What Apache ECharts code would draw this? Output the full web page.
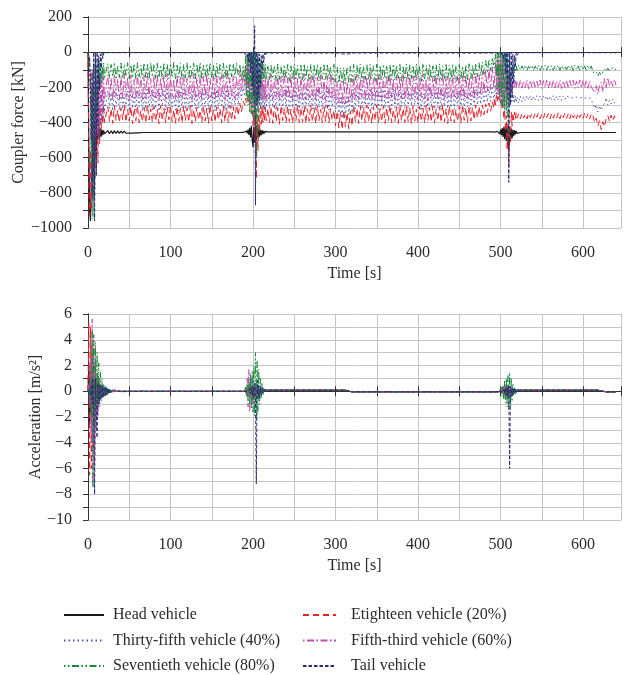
<!DOCTYPE html>
<html>
<head>
<meta charset="utf-8">
<script src="https://cdn.jsdelivr.net/npm/echarts@6/dist/echarts.min.js"></script>
<style>
  html, body { margin: 0; padding: 0; background: #fff; }
  #chart { width: 624px; height: 675px; }
</style>
</head>
<body>
<div id="chart"></div>
<script>
// sample times for the coupler force plot [s]
const timeTop = [
  0,1,2,3,4,5,6,7,8,9,10,11,12,13,14,15,16,17,18,19,20,
  24,26,28,30,32,34,36,38,40,42,44,46,48,50,52,54,56,58,60,62,64,66,68,70,72,74,76,78,80,82,84,86,88,90,92,94,96,98,100,102,104,106,108,110,112,114,116,118,120,122,124,126,128,130,132,134,136,138,140,142,144,146,148,150,152,154,156,158,160,162,164,166,168,170,172,174,176,178,180,182,184,186,188,
  189,190,191,192,193,194,195,196,197,198,199,200,201,202,203,204,205,206,207,208,209,210,211,212,213,214,215,216,
  218,220,222,224,226,228,230,232,234,236,238,240,242,244,246,248,250,252,254,256,258,260,262,264,266,268,270,272,274,276,278,280,282,284,286,288,290,292,294,296,298,
  300,302,304,306,308,310,312,314,316,318,320,322,324,326,328,330,332,334,336,338,340,342,344,346,348,350,352,354,356,358,360,362,364,366,368,370,372,374,376,378,380,382,384,386,388,390,392,394,396,398,
  400,402,404,406,408,410,412,414,416,418,420,422,424,426,428,430,432,434,436,438,440,442,444,446,448,450,452,454,456,458,460,462,464,466,468,470,472,474,476,478,480,482,484,486,488,490,492,
  493,494,495,496,497,498,499,500,501,502,503,504,505,506,507,508,509,510,511,512,513,514,515,516,517,518,519,520,
  522,524,526,528,530,532,534,536,538,540,542,544,546,548,550,552,554,556,558,560,562,564,566,568,570,572,574,576,578,580,582,584,586,588,590,592,594,596,598,600,602,604,606,608,610,612,614,616,618,620,622,624,626,628,630,632,634,636,638,640
];

// coupler force [kN]
const headForce = [
  0,-520,-900,-960,-760,-600,-700,-520,-620,-480,-560,-440,-500,-430,-490,-435,-480,-440,-472,-445,-465,
  -446,-464,-447,-463,-448,-462,-448,-462,-449,-461,
  -449,-461,-450,-460,-450,-460,-451,-459,-451,-459,
  -453,-457,-453,-457,-453,-457,-453,-457,-453,-457,
  -453,-457,-453,-457,-453,-457,-453,-457,-453,-457,
  -453,-457,-453,-457,-453,-457,-453,-457,-453,-457,
  -453,-457,-453,-457,-453,-457,-453,-457,-453,-457,
  -453,-457,-453,-457,-453,-457,-453,-457,-453,-457,
  -453,-457,-453,-457,-453,-457,-453,-457,-453,-457,
  -453,-457,-453,
  -455,-452,-458,-448,-462,-440,-470,-430,-485,-420,-500,-540,-425,-515,-420,-500,-430,-490,-435,-480,-440,-472,-444,-466,-448,-462,-450,-460,
  -453,-457,-453,-457,-453,-457,-453,-457,-453,-457,-453,-457,-453,-457,-453,-457,-453,-457,-453,-457,
  -453,-457,-453,-457,-453,-457,-453,-457,-453,-457,-453,-457,-453,-457,-453,-457,-453,-457,-453,-457,
  -453,-457,-453,-457,-453,-457,-453,-457,-453,-457,-453,-457,-453,-457,-453,-457,-453,-457,-453,-457,
  -453,-457,-453,-457,-453,-457,-453,-457,-453,-457,-453,-457,-453,-457,-453,-457,-453,-457,-453,-457,
  -453,-457,-453,-457,-453,-457,-453,-457,-453,-457,-453,-457,-453,-457,-453,-457,-453,-457,-453,-457,
  -453,-457,-453,-457,-453,-457,-453,-457,-453,-457,-453,-457,-453,-457,-453,-457,-453,-457,-453,-457,
  -453,-457,-453,-457,-453,-457,-453,-457,-453,-457,-453,-457,-453,-457,-453,-457,-453,-457,
  -455,-452,-458,-450,-460,-446,-465,-440,-472,-432,-482,-425,-495,-420,-505,-425,-520,-560,-430,-505,-435,-490,-440,-478,-444,-468,-448,-462,
  -453,-457,-453,-457,-453,-457,-453,-457,-453,-457,-453,-457,-453,-457,-453,-457,-453,-457,-453,-457,
  -453,-457,-453,-457,-453,-457,-453,-457,-453,-457,-453,-457,-453,-457,-453,-457,-453,-457,-453,-457,
  -453,-457,-453,-457,-453,-457,-453,-457,-453,-457,-453,-457,-453,-457,-453,-457,-453,-457,-453,-457
];
const eighteenForce = [
  0,-640,-930,-560,-900,-480,-860,-420,-780,-360,-700,-320,-630,-330,-520,-310,-440,-320,-410,-300,-400,
  -310,-395,-322,-405,-305,-388,-330,-400,-316,-384,
  -300,-398,-326,-392,-310,-406,-318,-390,-304,-400,
  -332,-396,-314,-404,-300,-386,-322,-400,-308,-394,
  -326,-406,-304,-390,-318,-400,-312,-384,-300,-396,
  -328,-404,-310,-392,-320,-402,-306,-388,-316,-398,
  -302,-406,-324,-394,-312,-386,-330,-400,-306,-392,
  -318,-404,-300,-390,-326,-398,-310,-386,-320,-402,
  -306,-394,-316,-400,-302,-388,-310,-380,-300,-360,
  -290,-340,-280,
  -270,-300,-262,-290,-258,-280,-262,-300,-270,-350,-300,-420,-330,-500,-360,-720,-380,-560,-320,-450,-300,-410,-310,-400,-305,-395,-315,-390,
  -320,-400,-310,-405,-300,-395,-315,-410,-305,-390,
  -320,-400,-305,-395,-325,-405,-310,-390,-300,-400,
  -316,-398,-306,-404,-322,-392,-300,-396,-318,-408,
  -304,-390,-326,-400,-310,-394,-300,-402,-320,-388,
  -330,-420,-335,-430,-340,-440,-330,-425,-345,-435,
  -335,-420,-300,-395,-320,-405,-305,-390,-315,-400,
  -300,-395,-325,-405,-310,-390,-300,-400,-320,-395,
  -305,-405,-315,-390,-300,-400,-325,-395,-310,-405,
  -300,-390,-320,-400,-305,-395,-315,-408,-302,-392,
  -324,-400,-308,-394,-318,-404,-300,-388,-314,-398,
  -306,-402,-322,-390,-310,-400,-300,-396,-320,-406,
  -304,-392,-316,-400,-326,-394,-308,-404,-300,-388,
  -318,-398,-306,-392,-314,-384,-300,-376,-308,-368,
  -300,-356,-294,-345,-288,-336,-282,-320,
  -260,-300,-245,-280,-240,-270,-250,-290,-270,-330,-300,-380,-330,-450,-360,-560,-400,-650,-420,-520,-340,-420,-345,-385,-340,-380,-345,-375,
  -350,-378,-346,-375,-352,-380,-348,-372,-350,-376,
  -345,-370,-348,-378,-352,-375,-346,-372,-350,-380,
  -348,-376,-352,-374,-345,-378,-350,-372,-347,-376,
  -352,-380,-346,-374,-350,-378,-348,-372,-352,-376,
  -346,-374,-350,-380,-348,-362,-400,-375,-420,-390,
  -440,-395,-425,-380,-360,-395,-358,-390,-362,-385
];
const thirtyFifthForce = [
  0,-20,-150,-420,-780,-260,-900,-120,-720,-60,-520,-160,-470,-220,-500,-240,-420,-210,-380,-230,-340,
  -220,-320,-232,-335,-214,-310,-242,-330,-210,-325,
  -236,-315,-220,-336,-210,-320,-246,-330,-216,-310,
  -230,-334,-222,-324,-210,-316,-240,-330,-226,-320,
  -214,-336,-236,-310,-220,-330,-210,-320,-230,-312,
  -244,-328,-216,-334,-226,-318,-212,-326,-238,-314,
  -220,-332,-210,-322,-234,-316,-218,-336,-228,-312,
  -212,-326,-240,-318,-222,-334,-214,-322,-232,-314,
  -218,-330,-210,-320,-236,-316,-224,-300,-230,-300,
  -200,-270,-190,
  -180,-250,-120,-200,-40,-160,0,-260,-20,-300,0,-320,-10,-280,0,-300,-30,-330,-100,-300,-180,-330,-200,-320,-210,-330,-220,-315,
  -230,-320,-210,-315,-225,-330,-205,-310,-235,-325,
  -215,-320,-200,-330,-230,-315,-210,-325,-240,-335,
  -212,-318,-226,-328,-204,-312,-236,-322,-218,-332,
  -208,-316,-232,-326,-214,-320,-202,-330,-228,-314,
  -240,-340,-250,-360,-260,-375,-250,-365,-245,-355,
  -240,-345,-210,-320,-225,-310,-200,-325,-235,-315,
  -215,-330,-205,-320,-230,-310,-210,-325,-225,-315,
  -200,-320,-235,-310,-215,-325,-205,-315,-230,-320,
  -210,-310,-225,-320,-205,-315,-230,-305,-215,-300,
  -222,-318,-206,-326,-234,-312,-214,-322,-200,-316,
  -228,-324,-210,-314,-236,-328,-218,-310,-204,-320,
  -226,-316,-212,-326,-232,-308,-220,-318,-206,-324,
  -230,-312,-214,-320,-224,-306,-210,-300,-218,-296,
  -206,-290,-200,-284,-196,-280,-192,-276,
  -270,-190,-260,-170,-240,-120,-220,-60,-250,0,-280,-10,-300,0,-290,-20,-310,-40,-300,-120,-290,-200,-280,-240,-290,-250,-285,-255,
  -290,-250,-282,-255,-276,-248,-272,-250,-276,-252,
  -270,-248,-274,-250,-272,-252,-268,-250,-274,-252,
  -270,-248,-275,-251,-272,-250,-274,-252,-270,-249,
  -250,-258,-252,-260,-250,-256,-253,-260,-251,-258,
  -255,-262,-252,-260,-256,-290,-320,-300,-340,-305,
  -330,-310,-290,-260,-300,-275,-295,-268,-290,-270
];
const fiftyThirdForce = [
  0,0,-40,-180,-320,-90,-420,-60,-520,-100,-500,-150,-460,-120,-400,-140,-340,-130,-300,-140,-270,
  -130,-260,-146,-275,-124,-250,-152,-270,-136,-265,
  -120,-255,-142,-276,-130,-260,-156,-270,-126,-250,
  -140,-274,-132,-264,-120,-256,-150,-270,-134,-260,
  -124,-276,-146,-250,-130,-270,-120,-262,-140,-254,
  -154,-268,-128,-274,-138,-258,-122,-266,-148,-252,
  -130,-272,-120,-262,-144,-256,-128,-276,-136,-252,
  -122,-266,-150,-258,-132,-274,-126,-262,-142,-254,
  -128,-270,-120,-260,-146,-256,-134,-266,-140,-250,
  -110,-220,-120,
  -120,-200,-80,-230,-20,-260,0,-300,-10,-320,-40,-300,-80,-340,-60,-300,-100,-280,-130,-270,-120,-265,-140,-270,-125,-260,-145,-270,
  -140,-265,-125,-270,-150,-255,-130,-275,-140,-260,
  -120,-270,-145,-260,-130,-275,-125,-255,-150,-270,
  -136,-262,-122,-272,-148,-258,-132,-268,-126,-276,
  -142,-256,-128,-266,-152,-274,-134,-260,-120,-268,
  -146,-280,-165,-290,-160,-300,-155,-295,-170,-285,
  -150,-280,-135,-265,-125,-270,-145,-255,-130,-275,
  -140,-260,-120,-270,-150,-265,-130,-255,-125,-275,
  -145,-260,-135,-270,-120,-260,-150,-275,-130,-255,
  -140,-265,-125,-270,-145,-260,-130,-265,-135,-255,
  -128,-272,-144,-258,-122,-266,-150,-276,-132,-262,
  -138,-256,-126,-270,-146,-264,-120,-274,-134,-258,
  -148,-266,-128,-260,-140,-272,-124,-256,-136,-268,
  -130,-262,-142,-254,-126,-266,-120,-250,-128,-240,
  -110,-232,-100,-222,-94,-214,-86,-205,
  -200,-60,-220,-30,-250,0,-280,0,-300,-20,-310,-40,-290,-60,-300,-90,-260,-120,-240,-150,-220,-160,-210,-155,-205,-160,-200,-165,
  -200,-160,-205,-165,-200,-158,-208,-162,-198,-160,
  -205,-165,-200,-158,-206,-162,-200,-160,-205,-165,
  -200,-160,-204,-163,-199,-158,-207,-164,-201,-160,
  -205,-162,-198,-160,-206,-165,-200,-158,-204,-162,
  -200,-160,-205,-164,-199,-215,-230,-190,-240,-185,
  -170,-225,-150,-200,-145,-190,-160,-195,-155,-190
];
const seventiethForce = [
  0,0,0,-120,-640,-220,-950,-60,-820,-30,-520,-60,-330,-50,-220,-60,-180,-65,-160,-60,-150,
  -65,-150,-70,-140,-60,-155,-75,-145,-62,-150,
  -70,-138,-60,-150,-72,-145,-65,-155,-60,-140,
  -75,-150,-62,-145,-70,-155,-60,-140,-68,-150,
  -63,-145,-72,-155,-60,-140,-70,-150,-65,-145,
  -58,-152,-74,-142,-64,-156,-70,-146,-61,-150,
  -72,-138,-62,-152,-68,-144,-60,-156,-74,-140,
  -66,-150,-60,-146,-76,-154,-63,-142,-70,-150,
  -61,-148,-72,-156,-64,-140,-65,-145,-60,-130,
  -70,-160,-75,
  -70,-160,-20,-250,0,-300,0,-340,0,-350,0,-360,0,-400,-10,-600,-20,-450,-40,-300,-60,-200,-60,-160,-65,-150,-70,-155,
  -80,-160,-70,-150,-75,-165,-68,-155,-80,-160,
  -72,-150,-70,-165,-78,-155,-68,-160,-75,-150,
  -74,-162,-66,-152,-80,-166,-70,-156,-76,-150,
  -68,-164,-78,-154,-72,-160,-66,-150,-80,-158,
  -70,-170,-85,-175,-90,-180,-88,-178,-84,-172,
  -80,-170,-70,-160,-75,-150,-68,-165,-80,-155,
  -72,-160,-70,-150,-78,-165,-68,-155,-75,-160,
  -70,-150,-80,-165,-72,-155,-68,-160,-75,-150,
  -70,-165,-78,-155,-68,-160,-72,-150,-76,-162,
  -66,-154,-80,-166,-70,-152,-74,-160,-68,-150,
  -78,-164,-72,-156,-66,-162,-80,-150,-70,-158,
  -74,-166,-68,-154,-76,-160,-70,-152,-80,-164,
  -72,-156,-66,-150,-74,-146,-64,-140,-60,-134,
  -56,-126,-48,-116,-40,-106,-30,-90,
  -100,-10,-150,0,-200,0,-250,0,-300,0,-310,0,-330,-10,-350,-20,-420,-500,-60,-250,-70,-150,-75,-120,-72,-110,-78,-105,
  -75,-102,-78,-100,-74,-104,-80,-98,-75,-102,
  -78,-100,-74,-104,-80,-98,-75,-102,-78,-100,
  -76,-103,-79,-99,-74,-104,-77,-100,-80,-102,
  -75,-101,-78,-104,-74,-99,-79,-103,-76,-100,
  -80,-102,-75,-100,-78,-115,-125,-110,-135,-115,
  -130,-112,-95,-108,-90,-105,-92,-100,-88,-104
];
const tailForce = [
  0,0,-40,-220,-500,-120,-820,0,-960,0,-700,0,-420,-20,-220,-10,-90,-5,-35,-5,-12,
  -3,-5,-3,-5,-3,-5,-3,-5,-3,-5,-3,-5,-3,-5,-3,-5,-3,-5,-3,-5,
  -3,-5,-3,-5,-3,-5,-3,-5,-3,-5,-3,-5,-3,-5,-3,-5,-3,-5,-3,-5,
  -3,-5,-3,-5,-3,-5,-3,-5,-3,-5,-3,-5,-3,-5,-3,-5,-3,-5,-3,-5,
  -3,-5,-3,-5,-3,-5,-3,-5,-3,-5,-3,-5,-3,-5,-3,-5,-3,-5,-3,-5,
  -3,-5,-4,
  -3,-5,-10,-3,-30,0,-60,0,-120,0,-200,-10,-250,150,-870,0,-300,0,-260,-10,-200,-20,-120,-10,-60,-5,-20,-4,
  -3,-5,-3,-5,-3,-5,-3,-5,-3,-5,-3,-5,-3,-5,-3,-5,-3,-5,-3,-5,-3,-5,
  -3,-5,-3,-5,-3,-5,-3,-5,-3,-5,-3,-5,-3,-5,-3,-5,-3,-5,-3,-5,-3,-5,
  -8,-10,-8,-10,-8,-10,
  -3,-5,-3,-5,-3,-5,-3,-5,-3,-5,-3,-5,-3,-5,-3,-5,-3,-5,-3,-5,-3,-5,
  -3,-5,-3,-5,-3,-5,-3,-5,-3,-5,-3,-5,-3,-5,-3,-5,-3,-5,-3,-5,-3,-5,
  -3,-5,-3,-5,-3,-5,-3,-5,-3,-5,-3,-5,-3,-5,-3,-5,-3,-5,-3,-5,-3,-5,
  -3,-5,-3,-5,-3,-5,-3,-5,-3,-5,-3,-5,-3,-5,-3,-5,-3,-5,-3,-5,-3,-5,
  -3,-5,-3,-8,-2,-10,-4,-15,-3,-20,0,-40,0,-120,0,-220,0,-740,0,-300,0,-260,-10,-180,-20,-80,-5,-20,
  -3,-5,-3,-5,-3,-5,-3,-5,-3,-5,-3,-5,-3,-5,-3,-5,-3,-5,-3,-5,
  -3,-5,-3,-5,-3,-5,-3,-5,-3,-5,-3,-5,-3,-5,-3,-5,-3,-5,-3,-5,
  -3,-5,-3,-5,-3,-5,-3,-5,-3,-5,-3,-5,-3,-5,-3,-5,-3,-5,-3,-5
];

// sample times for the acceleration plot [s]
const timeBottom = [
  0,1,2,3,4,5,6,7,8,9,10,11,12,13,14,15,16,17,18,19,20,21,22,23,24,25,26,27,28,29,30,
  35,40,50,60,80,100,130,160,185,
  190,191,192,193,194,195,196,197,198,199,200,201,202,203,204,205,206,207,208,209,210,211,212,213,214,
  220,240,270,300,312,320,330,360,400,450,480,495,
  498,499,500,501,502,503,504,505,506,507,508,509,510,511,512,513,514,515,516,517,518,519,520,
  525,540,560,600,618,628,640
];

// acceleration [m/s2]
const headAccel = [
  0,2.0,-2.5,1.5,-1.8,1.2,-1.4,0.9,-1.0,0.7,-0.8,0.6,-0.6,0.5,-0.5,0.4,-0.4,0.35,-0.3,0.3,-0.25,0.2,-0.2,0.15,-0.15,0.1,-0.1,0.08,-0.06,0.05,-0.03,
  0,0,0,0,0,0,0,0,0,
  0,0.05,-0.05,0.1,-0.1,0.15,-0.15,0.2,-0.2,0.3,-0.3,0.35,-0.35,0.3,-0.3,0.25,-0.25,0.2,-0.2,0.15,-0.1,0.1,0.05,0.1,0.08,
  0.08,0.08,0.08,0.08,0.08,-0.05,-0.05,-0.05,-0.05,-0.05,-0.05,-0.05,
  -0.05,0.05,-0.1,0.1,-0.15,0.2,-0.25,0.3,-0.3,0.35,-0.35,0.3,-0.3,0.25,-0.25,0.2,-0.15,0.15,-0.1,0.1,0.05,0.1,0.08,
  0.08,0.08,0.08,0.08,0.08,-0.05,-0.05
];
const eighteenAccel = [
  0,5.4,-6.5,5.0,-6.0,3.5,-4.5,2.0,-2.5,1.2,-1.5,0.8,-1.0,0.6,-0.6,0.4,-0.4,0.3,-0.3,0.2,-0.2,0.15,-0.15,0.1,-0.1,0.08,-0.06,0.05,-0.03,0.02,0,
  0,0,0,0,0,0,0,0,0,
  0,0.1,-0.1,0.2,-0.3,0.4,-0.4,0.5,-0.5,0.4,-0.6,0.5,-0.5,0.4,-0.4,0.3,-0.3,0.2,-0.2,0.15,-0.1,0.1,0.05,0.1,0.08,
  0.08,0.08,0.08,0.08,0.08,-0.05,-0.05,-0.05,-0.05,-0.05,-0.05,-0.05,
  -0.05,0.1,-0.1,0.2,-0.2,0.3,-0.3,0.4,-0.4,0.5,-0.6,0.4,-0.4,0.3,-0.3,0.2,-0.2,0.15,-0.1,0.1,0.05,0.1,0.08,
  0.08,0.08,0.08,0.08,0.08,-0.05,-0.05
];
const thirtyFifthAccel = [
  0,0.5,-1.0,2.0,-3.0,3.0,-4.0,2.5,-4.5,1.5,-3.0,1.0,-2.0,0.8,-1.2,0.6,-0.8,0.4,-0.5,0.3,-0.4,0.2,-0.3,0.15,-0.2,0.1,-0.1,0.05,-0.05,0.03,0,
  0,0,0,0,0,0,0,0,0,
  0,0.1,-0.2,0.3,-0.4,0.6,-0.6,0.8,-0.8,0.9,-1.0,0.8,-0.9,0.7,-0.7,0.5,-0.5,0.3,-0.3,0.2,-0.15,0.12,0.05,0.1,0.08,
  0.08,0.08,0.08,0.08,0.08,-0.05,-0.05,-0.05,-0.05,-0.05,-0.05,-0.05,
  -0.05,0.1,-0.15,0.2,-0.3,0.3,-0.4,0.5,-0.5,0.5,-0.6,0.5,-0.5,0.4,-0.4,0.3,-0.3,0.2,-0.15,0.1,0.05,0.1,0.08,
  0.08,0.08,0.08,0.08,0.08,-0.05,-0.05
];
const fiftyThirdAccel = [
  0,0.5,-1.0,2.5,-4.0,5.6,-7.3,4.0,-5.5,2.5,-3.0,1.5,-1.8,1.0,-1.0,0.6,-0.6,0.4,-0.4,0.3,-0.3,0.2,-0.2,0.15,-0.1,0.1,-0.08,0.05,-0.04,0.02,0,
  0,0,0,0,0,0,0,0,0,
  0,0.3,-0.4,1.0,-1.2,1.7,-1.5,1.4,-1.3,0.9,-0.9,0.6,-0.6,0.4,-0.4,0.3,-0.3,0.2,-0.2,0.15,-0.1,0.1,0.05,0.1,0.08,
  0.08,0.08,0.08,0.08,0.08,-0.05,-0.05,-0.05,-0.05,-0.05,-0.05,-0.05,
  -0.05,0.05,-0.1,0.15,-0.2,0.25,-0.3,0.35,-0.35,0.4,-0.4,0.35,-0.35,0.3,-0.3,0.2,-0.2,0.15,-0.1,0.1,0.05,0.1,0.08,
  0.08,0.08,0.08,0.08,0.08,-0.05,-0.05
];
const seventiethAccel = [
  0,0.2,-0.5,1.0,-2.0,4.7,-7.5,4.4,-3.0,3.8,-1.5,3.0,-1.0,2.2,-0.8,1.5,-0.6,1.0,-0.5,0.6,-0.4,0.4,-0.3,0.3,-0.2,0.2,-0.15,0.12,-0.1,0.06,0,
  0,0,0,0,0,0,0,0,0,
  0,0.3,-0.4,0.6,-0.8,0.9,-1.0,1.2,-1.3,1.6,-1.6,2.0,-1.9,3.0,-2.2,2.4,-1.6,1.7,-1.0,1.0,-0.6,0.6,-0.3,0.3,0.08,
  0.08,0.08,0.08,0.08,0.08,-0.05,-0.05,-0.05,-0.05,-0.05,-0.05,-0.05,
  -0.05,0.1,-0.2,0.3,-0.4,0.5,-0.6,0.8,-0.9,1.0,-1.2,1.3,-1.5,1.45,-1.3,1.0,-0.8,0.6,-0.4,0.3,-0.2,0.15,0.08,
  0.08,0.08,0.08,0.08,0.08,-0.05,-0.05
];
const tailAccel = [
  0,0,0.1,-0.3,0.5,-1.0,1.0,-2.0,-8.0,1.0,-1.5,-3.6,0.6,-1.0,0.5,-0.7,0.45,-0.55,0.4,-0.45,0.35,-0.35,0.3,-0.3,0.25,-0.2,0.15,-0.12,0.08,-0.05,0,
  0.1,-0.05,0,0,0,0,0,0,0,
  0,0,0.05,-0.05,0.1,-0.1,0.2,-0.2,0.3,-0.3,0.4,-0.5,0.6,-0.6,-7.2,0.8,-0.6,0.5,-0.5,0.4,-0.3,0.25,-0.15,0.12,0.08,
  0.08,0.08,0.08,0.08,0.08,-0.05,-0.05,-0.05,-0.05,-0.05,-0.05,-0.05,
  -0.05,0,0.05,-0.05,0.1,-0.1,0.15,-0.2,0.25,-0.3,0.35,-0.4,0.4,-6.0,0.4,-0.4,0.35,-0.3,0.25,-0.2,0.15,-0.1,0.08,
  0.08,0.08,0.08,0.08,0.08,-0.05,-0.05
];

const vehicleNames = [
  'Head vehicle',
  'Etighteen vehicle (20%)',
  'Thirty-fifth vehicle (40%)',
  'Fifth-third vehicle (60%)',
  'Seventieth vehicle (80%)',
  'Tail vehicle'
];
const forceData = [headForce, eighteenForce, thirtyFifthForce, fiftyThirdForce, seventiethForce, tailForce];
const accelData = [headAccel, eighteenAccel, thirtyFifthAccel, fiftyThirdAccel, seventiethAccel, tailAccel];

// line look per vehicle (colour, dash, width)
const styles = [
  { color: '#1a1a1a', type: 'solid', width: 1.2 },
  { color: '#e5242c', type: [6, 4], width: 1 },
  { color: '#4a52b0', type: [1.5, 3], width: 1 },
  { color: '#c64aaa', type: [1.5, 2.5, 7, 2.5], width: 1 },
  { color: '#18893a', type: [1.5, 2.5, 1.5, 2.5, 7, 2.5], width: 1 },
  { color: '#262b74', type: [3.5, 2], width: 1 }
];

const FONT = '"Liberation Serif", "DejaVu Serif", serif';
const TXT = '#2b2b2b';
const AXIS = '#333';
const GRIDC = '#c4c4c4';

function minus(v) {
  return String(v).replace('-', '\u2212');
}

function xAxes(gridIndex, name) {
  return [
    {
      type: 'value', gridIndex, min: 0, max: 646, interval: 50,
      name, nameLocation: 'middle', nameGap: 38, nameMoveOverlap: false,
      nameTextStyle: { fontFamily: FONT, fontSize: 16, color: TXT },
      axisLine: { show: true, lineStyle: { color: AXIS, width: 1 } },
      axisTick: { show: true, inside: true, length: 5, lineStyle: { color: AXIS } },
      axisLabel: {
        margin: 17, fontFamily: FONT, fontSize: 16, color: TXT,
        formatter: v => (v % 100 === 0 ? minus(v) : '')
      },
      splitLine: { show: true, lineStyle: { color: GRIDC, width: 1 } }
    },
    {
      type: 'value', gridIndex, position: 'top', min: 0, max: 646, interval: 50,
      axisLine: { show: true, lineStyle: { color: AXIS, width: 1 } },
      axisTick: { show: true, inside: true, length: 5, lineStyle: { color: AXIS } },
      axisLabel: { show: false },
      splitLine: { show: false }
    }
  ];
}

function yAxes(gridIndex, name, min, max, interval, labelStep, nameGap) {
  return [
    {
      type: 'value', gridIndex, min, max, interval,
      name, nameLocation: 'middle', nameGap, nameRotate: 90, nameMoveOverlap: false,
      nameTextStyle: { fontFamily: FONT, fontSize: 16, color: TXT },
      axisLine: { show: true, lineStyle: { color: AXIS, width: 1 } },
      axisTick: { show: true, inside: false, length: 5, lineStyle: { color: AXIS } },
      axisLabel: {
        margin: 16, fontFamily: FONT, fontSize: 16, color: TXT,
        formatter: v => (v % labelStep === 0 ? minus(v) : '')
      },
      splitLine: { show: true, lineStyle: { color: GRIDC, width: 1 } }
    },
    {
      type: 'value', gridIndex, position: 'right', min, max, interval,
      axisLine: { show: true, lineStyle: { color: AXIS, width: 1 } },
      axisTick: { show: true, inside: true, length: 5, lineStyle: { color: AXIS } },
      axisLabel: { show: false },
      splitLine: { show: false }
    }
  ];
}

function makeSeries(times, values, axisIndex) {
  return vehicleNames.map((name, k) => ({
    name,
    type: 'line',
    xAxisIndex: axisIndex,
    yAxisIndex: axisIndex,
    data: times.map((t, i) => [t, values[k][i]]),
    symbol: 'none',
    showSymbol: false,
    lineStyle: { color: styles[k].color, type: styles[k].type, width: styles[k].width },
    itemStyle: { color: styles[k].color },
    z: 2 + k
  }));
}

const legendText = { fontFamily: FONT, fontSize: 16, color: TXT, lineHeight: 16 };

const option = {
  backgroundColor: '#fff',
  animation: false,
  grid: [
    { left: 88, top: 17, width: 533, height: 211 },
    { left: 88, top: 314, width: 533, height: 206 }
  ],
  xAxis: [...xAxes(0, 'Time [s]'), ...xAxes(1, 'Time [s]')],
  yAxis: [
    ...yAxes(0, 'Coupler force [kN]', -1000, 200, 100, 200, 61),
    ...yAxes(1, 'Acceleration [m/s\u00b2]', -10, 6, 1, 2, 44)
  ],
  legend: [
    {
      orient: 'vertical', left: 63, top: 607, padding: 0,
      itemWidth: 40, itemHeight: 16, itemGap: 9.5,
      data: [vehicleNames[0], vehicleNames[2], vehicleNames[4]],
      itemStyle: { opacity: 0 },
      textStyle: Object.assign({ padding: [0, 0, 0, 4] }, legendText)
    },
    {
      orient: 'vertical', left: 302, top: 607, padding: 0,
      itemWidth: 33, itemHeight: 16, itemGap: 9.5,
      data: [vehicleNames[1], vehicleNames[3], vehicleNames[5]],
      itemStyle: { opacity: 0 },
      textStyle: Object.assign({ padding: [0, 0, 0, 10] }, legendText)
    }
  ],
  series: [
    ...makeSeries(timeTop, forceData, 0),
    ...makeSeries(timeBottom, accelData, 2)
  ]
};

const chart = echarts.init(document.getElementById('chart'), null, { renderer: 'canvas' });
chart.setOption(option);
</script>
</body>
</html>
